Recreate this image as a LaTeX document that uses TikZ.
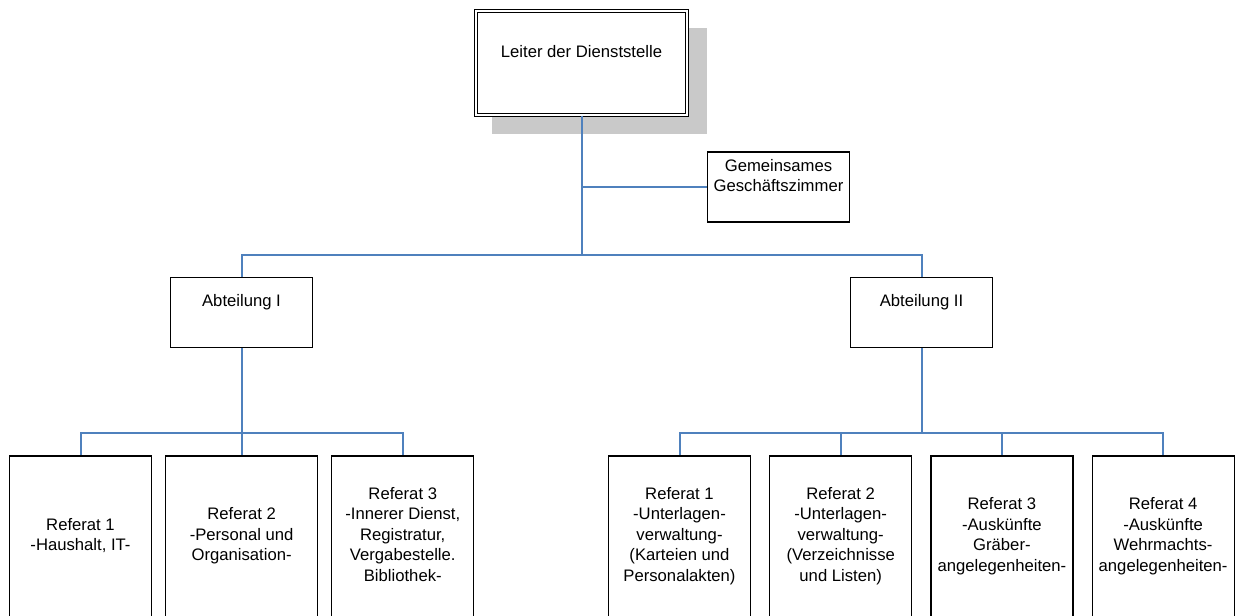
\documentclass[tikz,border=0pt]{standalone}
\usepackage{fontspec}
\setmainfont{Liberation Sans}
\usetikzlibrary{positioning,shadows}
\definecolor{linkblue}{RGB}{79,129,189}

\begin{document}
\begin{tikzpicture}[x=0.75pt,y=-0.75pt,
    box/.style={draw,line width=0.9pt,align=center,inner sep=0pt,
      font=\fontsize{12.5}{15.4}\selectfont,text depth=17.5pt,minimum width=106.5pt},
    unit/.style={box,minimum height=52.5pt},
    refbox/.style={box,minimum height=135pt},
    conn/.style={linkblue,line width=1.5pt}]
  \useasboundingbox (0,0) rectangle (1239,615);
  % head
  \node[box,fill=white,double,double distance=2pt,line width=0.75pt,
        minimum width=158.25pt,minimum height=78pt,
        drop shadow={shadow xshift=13pt,shadow yshift=-13pt,shadow scale=1.02,
                     fill=black!21,opacity=1}] (ltr) at (581.5,63) {Leiter der Dienststelle};
  \node[unit] (gsz) at (778.5,187) {Gemeinsames\\Geschäftszimmer};
  \node[unit] (abt1) at (241.5,312.5) {Abteilung I};
  \node[unit] (abt2) at (921.5,312.5) {Abteilung II};
  % Abteilung I
  \node[refbox] (l1) at (80.5,546) {Referat 1\\-Haushalt, IT-};
  \node[refbox,minimum width=113.9pt,right=9.75pt of l1] (l2) {Referat 2\\-Personal und\\Organisation-};
  \node[refbox,right=9.75pt of l2] (l3) {Referat 3\\-Innerer Dienst,\\Registratur,\\Vergabestelle.\\Bibliothek-};
  % Abteilung II
  \node[refbox] (r1) at (679.5,546) {Referat 1\\-Unterlagen-\\verwaltung-\\(Karteien und\\Personalakten)};
  \node[refbox,right=13.5pt of r1] (r2) {Referat 2\\-Unterlagen-\\verwaltung-\\(Verzeichnisse\\und Listen)};
  \node[refbox,right=13.5pt of r2] (r3) {Referat 3\\-Auskünfte\\Gräber-\\angelegenheiten-};
  \node[refbox,right=13.5pt of r3] (r4) {Referat 4\\-Auskünfte\\Wehrmachts-\\angelegenheiten-};
  % connectors
  \coordinate (hub) at (581.5,255);
  \coordinate (hubI) at (241.5,433);
  \coordinate (hubII) at (921.5,433);
  \draw[conn] (ltr.south) -- (hub);
  \draw[conn] (gsz.west) -- (gsz.west -| ltr.south);
  \draw[conn] (abt1.north) |- (hub) -| (abt2.north);
  \draw[conn] (abt1.south) -- (hubI);
  \draw[conn] (abt2.south) -- (hubII);
  \foreach \n in {l1,l2,l3}
    \draw[conn] (hubI) -| (\n.north);
  \foreach \n in {r1,r2,r3,r4}
    \draw[conn] (hubII) -| (\n.north);
\end{tikzpicture}
\end{document}
